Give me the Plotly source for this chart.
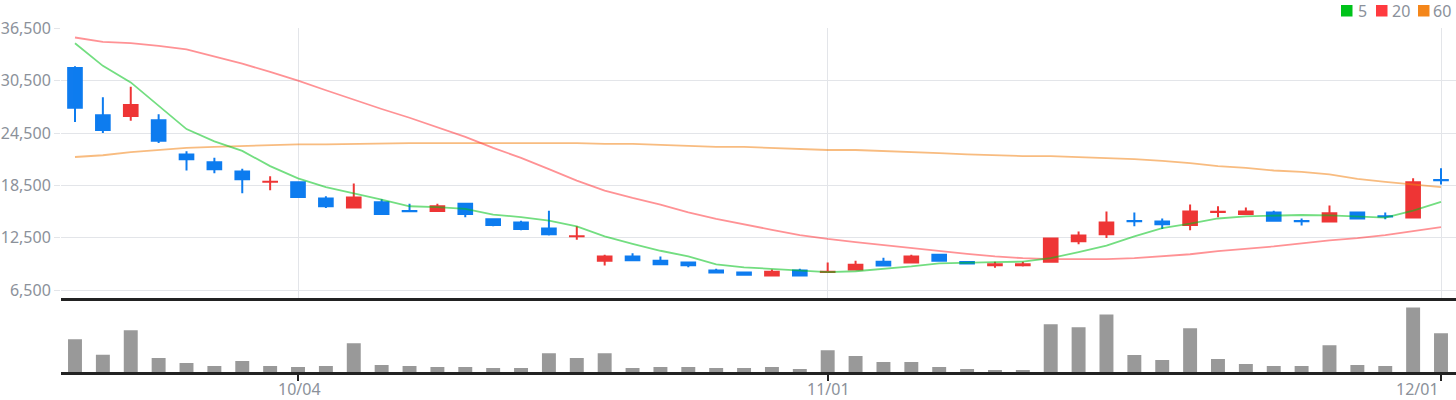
import plotly.graph_objects as go

# ---- data ----
dates = [
    "09/18", "09/19", "09/20", "09/21", "09/22", "09/25", "09/26", "09/27",
    "10/04", "10/05", "10/06", "10/10", "10/11", "10/12", "10/13",
    "10/16", "10/17", "10/18", "10/19", "10/20",
    "10/23", "10/24", "10/25", "10/26", "10/27", "10/30", "10/31",
    "11/01", "11/02", "11/03", "11/06", "11/07", "11/08", "11/09", "11/10",
    "11/13", "11/14", "11/15", "11/16", "11/17",
    "11/20", "11/21", "11/22", "11/23", "11/24",
    "11/27", "11/28", "11/29", "11/30", "12/01",
]
opens = [31950, 26550, 26450, 25950, 22050, 21150, 20100, 18900, 18850, 17000,
         15950, 16550, 15550, 15550, 16400, 14600, 14250, 13550, 12650, 9850,
         10350, 9850, 9650, 8750, 8500, 8150, 8750, 8550, 8850, 9750,
         9650, 10550, 9700, 9350, 9350, 9750, 12100, 12900, 14400, 14350,
         13950, 15450, 15200, 15400, 14400, 14350, 15400, 14950, 14800, 19100]
highs = [32150, 28600, 29800, 26650, 22400, 21650, 20400, 19550, 18850, 17250,
         18700, 16900, 16400, 16400, 16400, 14700, 14450, 15600, 13800, 10550,
         10700, 10350, 9750, 8950, 8600, 8850, 8950, 9650, 9850, 10200,
         10550, 10550, 9700, 9750, 9750, 12400, 13200, 15500, 15400, 14700,
         16300, 16100, 15950, 15600, 14700, 16200, 15500, 15400, 19300, 20450]
lows = [25750, 24500, 25900, 23350, 20200, 19900, 17600, 17950, 17050, 15900,
        15900, 15200, 15540, 15550, 14850, 13800, 13350, 12750, 12250, 9300,
        9800, 9450, 9100, 8500, 8150, 8150, 8150, 8500, 8750, 9200,
        9550, 9750, 9550, 9050, 9200, 9650, 11750, 12450, 13800, 13500,
        13350, 14850, 15100, 14350, 13900, 14250, 14700, 14600, 14800, 18600]
closes = [27400, 24850, 27700, 23600, 21500, 20350, 19200, 18910, 17150, 16100,
          17100, 15200, 15540, 16100, 15200, 13950, 13500, 12900, 12660, 10350,
          9900, 9450, 9350, 8500, 8250, 8600, 8150, 8600, 9400, 9300,
          10350, 9850, 9550, 9450, 9450, 12400, 12750, 14250, 14390, 14050,
          15500, 15460, 15500, 14450, 14390, 15300, 14700, 14940, 18850, 19090]
ma5 = [34800, 32200, 30300, 27650, 24950, 23550, 22450, 20700, 19300, 18300,
       17600, 16850, 16100, 16000, 15800, 15150, 14850, 14450, 13800, 12650,
       11800, 11000, 10350, 9450, 9100, 8900, 8700, 8550, 8650, 8900,
       9200, 9550, 9650, 9700, 9750, 10150, 10850, 11600, 12650, 13600,
       14100, 14700, 14950, 15050, 15100, 15050, 14950, 14800, 15600, 16600]
ma20 = [35450, 34950, 34800, 34500, 34100, 33300, 32450, 31500, 30500, 29400,
        28300, 27250, 26250, 25150, 24050, 22800, 21650, 20350, 19050, 17900,
        17050, 16300, 15400, 14650, 14000, 13400, 12800, 12350, 12000, 11650,
        11300, 11000, 10650, 10350, 10150, 10050, 10050, 10050, 10150, 10350,
        10600, 10950, 11200, 11500, 11850, 12200, 12450, 12800, 13250, 13700]
ma60 = [21750, 21950, 22300, 22550, 22800, 22900, 23000, 23100, 23200, 23200,
        23250, 23350, 23350, 23350, 23350, 23350, 23350, 23350, 23350, 23250,
        23250, 23150, 23000, 22900, 22900, 22800, 22650, 22550, 22550, 22450,
        22300, 22200, 22050, 21950, 21850, 21850, 21750, 21650, 21500, 21300,
        21050, 20700, 20500, 20200, 20050, 19750, 19250, 18900, 18600, 18300]
volumes = [99000, 52000, 126000, 42000, 27000, 18000, 33000, 18000, 15000, 18000,
           87000, 21000, 18000, 15000, 15000, 12000, 12000, 57000, 42000, 57000,
           12000, 15000, 15000, 12000, 12000, 15000, 9000, 66000, 48000, 30000,
           30000, 15000, 9000, 6000, 6000, 144000, 135000, 174000, 51000, 36000,
           132000, 39000, 24000, 18000, 18000, 81000, 21000, 18000, 195000, 117000]
price_ticks = [6500, 12500, 18500, 24500, 30500, 36500]
date_ticks = ["10/04", "11/01", "12/01"]
legend_labels = ["5", "20", "60"]

# ---- style ----
RED = "#ee3737"
BLUE = "#0f7cef"
GREEN = "#00c31a"
LRED = "#ff3a3f"
ORANGE = "#f4861a"
GRID = "#e3e5e9"
TXT = "#8b919a"
FONT = "Noto Sans"
W, H = 1456, 400
ML, MR, MT, MB = 61, 0, 28, 28
PW, PH = W - ML - MR, H - MT - MB

fig = go.Figure()
fig.add_trace(go.Candlestick(
    x=dates, open=opens, high=highs, low=lows, close=closes,
    increasing=dict(line=dict(color=RED, width=2), fillcolor=RED),
    decreasing=dict(line=dict(color=BLUE, width=2), fillcolor=BLUE),
    xaxis="x", yaxis="y", showlegend=False, name="price"))
for vals, col, nm in [(ma60, ORANGE, "60"), (ma20, LRED, "20"), (ma5, GREEN, "5")]:
    fig.add_trace(go.Scatter(x=dates, y=vals, mode="lines", name=nm,
                             line=dict(color=col, width=1.8), opacity=0.55,
                             xaxis="x", yaxis="y", showlegend=False))
fig.add_trace(go.Bar(x=dates, y=volumes, marker=dict(color="#999999", line=dict(width=0)),
                     width=0.5, xaxis="x2", yaxis="y2", showlegend=False, name="volume"))

vol_top = (372 - 297.5) / PH
xr = [-0.502, 49.538]
fig.update_layout(
    width=W, height=H, margin=dict(l=ML, r=MR, t=MT, b=MB, pad=0, autoexpand=False),
    plot_bgcolor="white", paper_bgcolor="white", showlegend=False,
    font=dict(family=FONT, size=16, color=TXT),
    xaxis=dict(domain=[0, 1], anchor="y", type="category", categoryorder="array",
               categoryarray=dates, range=xr, rangeslider=dict(visible=False),
               tickvals=date_ticks, showticklabels=False, showgrid=True, gridcolor=GRID,
               gridwidth=1, showline=True, linecolor="#222222", linewidth=2.5, ticks="",
               zeroline=False, automargin=False),
    yaxis=dict(domain=[vol_top, 1], anchor="x", range=[5640, 36540], tickvals=price_ticks,
               tickformat=",", showgrid=True, gridcolor=GRID, ticks="outside", ticklen=6,
               tickcolor=GRID, zeroline=False, showline=False, automargin=False,
               tickfont=dict(family=FONT, size=16, color=TXT)),
    xaxis2=dict(domain=[0, 1], anchor="y2", type="category", categoryorder="array",
                categoryarray=dates, range=xr, matches="x", tickvals=date_ticks,
                showticklabels=False, showgrid=False, showline=True, linecolor="#222222",
                linewidth=2.5, ticks="outside", ticklen=6, tickwidth=2, tickcolor="#222222",
                zeroline=False, automargin=False),
    yaxis2=dict(domain=[0, vol_top], anchor="x2", range=[0, 225000], showticklabels=False,
                showgrid=False, zeroline=False, showline=False, automargin=False),
)
# date labels under the volume panel (last one right-aligned to its tick, as in the reference)
for i, d in enumerate(date_ticks):
    last = i == len(date_ticks) - 1
    fig.add_annotation(text=d, xref="x2", yref="paper", x=d,
                       y=-(388.5 - (H - MB)) / PH, xanchor="right" if last else "center",
                       yanchor="middle", xshift=-1 if last else 1, showarrow=False,
                       borderpad=0, font=dict(family=FONT, size=16, color=TXT))

# legend: coloured squares + labels, top right
sq_x = [1341, 1376, 1418]
txt_x = [1357, 1391, 1432]
cols = [GREEN, LRED, ORANGE]
for sx, tx, col, lab in zip(sq_x, txt_x, cols, legend_labels):
    fig.add_shape(type="rect", xref="paper", yref="paper",
                  x0=(sx - ML) / PW, x1=(sx + 11.5 - ML) / PW,
                  y0=(H - MB - 16.5) / PH, y1=(H - MB - 5) / PH,
                  fillcolor=col, line=dict(width=0))
    fig.add_annotation(text=lab, xref="paper", yref="paper", x=(tx - ML) / PW,
                       y=(H - MB - 10.5) / PH, xanchor="left", yanchor="middle",
                       showarrow=False, font=dict(family=FONT, size=16, color=TXT),
                       borderpad=0)

fig.write_html("out.html", config={"displayModeBar": False},
               post_script="document.body.style.margin='0';document.body.style.overflow='hidden';")
